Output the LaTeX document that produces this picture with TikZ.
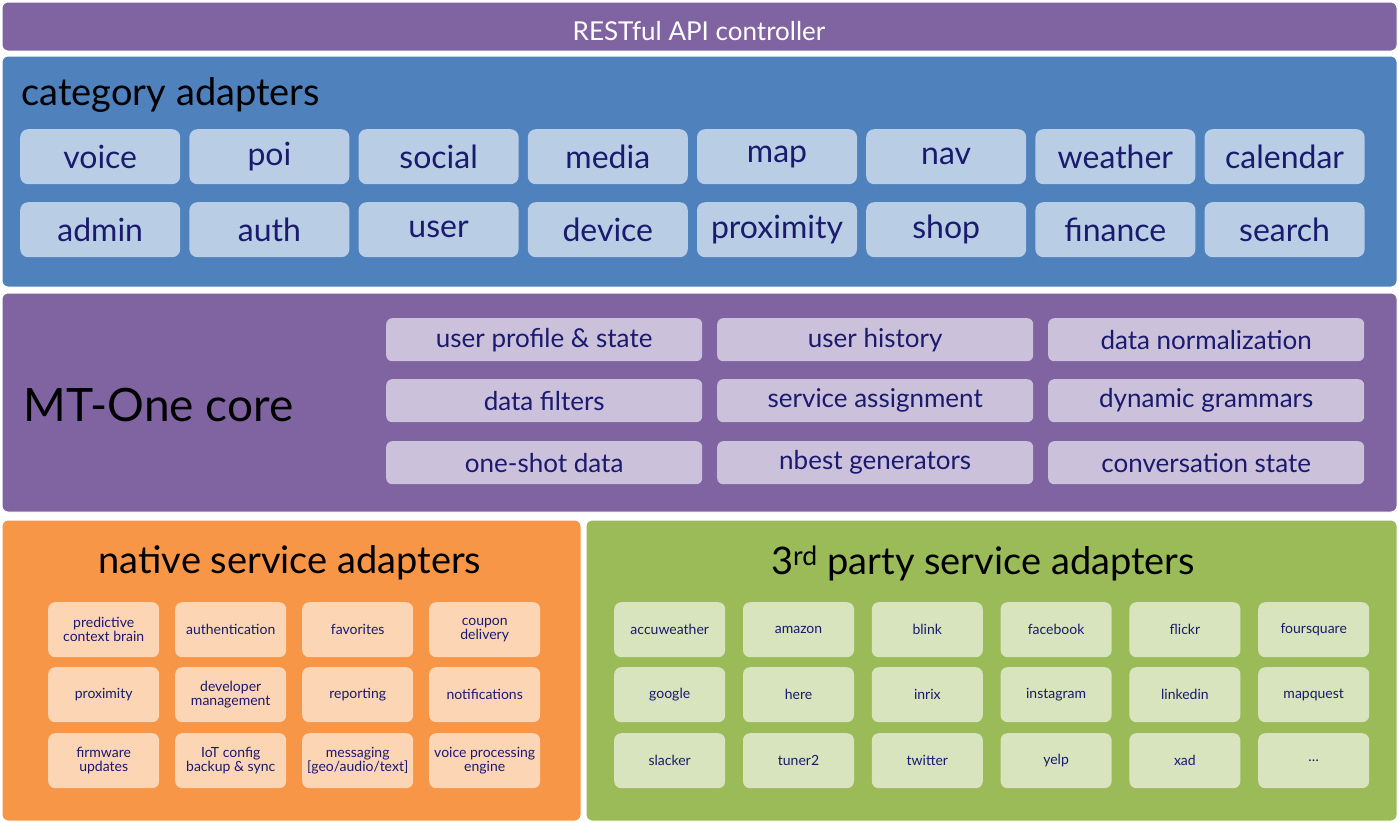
\documentclass[tikz,border=0pt]{standalone}
\usepackage{fontspec}
\setmainfont{Lato}
\usetikzlibrary{positioning}
\definecolor{apipurple}{HTML}{8064A2}
\definecolor{catblue}{HTML}{4F81BD}
\definecolor{catbox}{HTML}{B9CDE5}
\definecolor{corebox}{HTML}{CCC1DA}
\definecolor{natorange}{HTML}{F79646}
\definecolor{natbox}{HTML}{FCD5B5}
\definecolor{extgreen}{HTML}{9BBB59}
\definecolor{extbox}{HTML}{D7E4BD}
\definecolor{boxtext}{HTML}{1A1A6E}
\begin{document}
\begin{tikzpicture}[x=1pt,y=-1pt,
                panel/.style={draw=white,line width=1pt,rounded corners=6pt,minimum height=#1,anchor=north west},
                catbtn/.style={fill=catbox,rounded corners=8pt,minimum width=160pt,minimum height=55pt,text=boxtext,font=\fontsize{32}{34}\selectfont,anchor=north west,inner sep=0pt},
                corebtn/.style={fill=corebox,rounded corners=6pt,minimum width=316pt,minimum height=43pt,text=boxtext,font=\fontsize{26}{28}\selectfont,anchor=north west,inner sep=0pt},
                smallbtn/.style={fill=#1,rounded corners=7pt,minimum width=111pt,minimum height=55pt,text=boxtext,font=\fontsize{14}{14}\selectfont,align=center,anchor=north west,inner sep=0pt},
                title/.style={font=\fontsize{38}{40}\selectfont},
            ]
                \useasboundingbox (0,0) rectangle (1398,822);

                \node[panel=49pt,fill=apipurple,minimum width=1395pt] (api) at (1.5,1.5) { };
                \node[text=white,font=\fontsize{26}{28}\selectfont] (apitext) at (699,31) {RESTful API controller};

% category adapters
                \node[panel=231pt,fill=catblue,minimum width=1395pt] (cat) at (1.5,55.5) { };
                \node[title,anchor=west] (cattitle) at (18,95) {category adapters};
                \foreach \name [count=\i from 0] in {voice,poi,social,media,map,nav,weather,calendar}
                    \node[catbtn] (cata\i) at (20+169.2*\i,129) {\name};
                \foreach \name [count=\i from 0] in {admin,auth,user,device,proximity,shop,finance,search}
                    \node[catbtn] (catb\i) at (20+169.2*\i,202) {\name};

% MT-One core
                \node[panel=219pt,fill=apipurple,minimum width=1395pt] (core) at (1.5,292.5) { };
                \node[font=\fontsize{46}{48}\selectfont,anchor=west] (coretitle) at (20,405) {MT-One core};
                \foreach \name [count=\i from 0] in {user profile \& state,user history,data normalization}
                    \node[corebtn] (corea\i) at (386+331*\i,318) {\name};
                \foreach \name [count=\i from 0] in {data filters,service assignment,dynamic grammars}
                    \node[corebtn] (coreb\i) at (386+331*\i,379) {\name};
                \foreach \name [count=\i from 0] in {one-shot data,nbest generators,conversation state}
                    \node[corebtn] (corec\i) at (386+331*\i,441) {\name};

% native service adapters
                \node[panel=301pt,fill=natorange,minimum width=579pt] (nat) at (1.5,519.5) { };
                \node[title] (nattitle) at (290,563) {native service adapters};
                \foreach \name [count=\i from 0] in {predictive\\context brain,authentication,favorites,coupon\\delivery}
                    \node[smallbtn=natbox] (nata\i) at (48+127*\i,602) {\name};
                \foreach \name [count=\i from 0] in {proximity,developer\\management,reporting,notifications}
                    \node[smallbtn=natbox] (natb\i) at (48+127*\i,667) {\name};
                \foreach \name [count=\i from 0] in {firmware\\updates,IoT config\\backup \& sync,messaging\\{[geo/audio/text]},voice processing\\engine}
                    \node[smallbtn=natbox] (natc\i) at (48+127*\i,733) {\name};

% 3rd party service adapters
                \node[panel=301pt,fill=extgreen,minimum width=811pt] (ext) at (585.5,519.5) { };
                \node[title] (exttitle) at (983,563) {3\textsuperscript{rd} party service adapters};
                \foreach \name [count=\i from 0] in {accuweather,amazon,blink,facebook,flickr,foursquare}
                    \node[smallbtn=extbox] (exta\i) at (614+128.8*\i,602) {\name};
                \foreach \name [count=\i from 0] in {google,here,inrix,instagram,linkedin,mapquest}
                    \node[smallbtn=extbox] (extb\i) at (614+128.8*\i,667) {\name};
                \foreach \name [count=\i from 0] in {slacker,tuner2,twitter,yelp,xad,\dots}
                    \node[smallbtn=extbox] (extc\i) at (614+128.8*\i,733) {\name};
            \end{tikzpicture}
\end{document}
